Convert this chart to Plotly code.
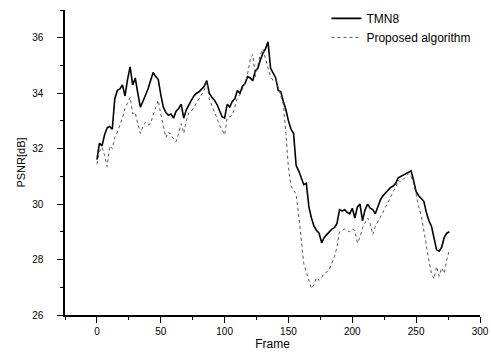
import plotly.graph_objects as go

frames = list(range(0, 277, 2))

tmn8 = [
    31.6, 32.2, 32.1, 32.5, 32.75, 32.8, 32.7, 33.8, 34.1, 34.15,
    34.3, 33.9, 34.5, 34.95, 34.3, 34.55, 34.0, 33.5, 33.7, 33.9,
    34.15, 34.45, 34.75, 34.6, 34.5, 33.95, 33.5, 33.3, 33.2, 33.25,
    33.1, 33.35, 33.45, 33.6, 33.1, 33.4, 33.6, 33.75, 33.9, 34.0,
    34.05, 34.15, 34.25, 34.45, 34.0, 33.85, 33.75, 33.6, 33.35, 33.15,
    33.1, 33.6, 33.5, 33.7, 33.8, 34.1, 34.0, 34.25, 34.35, 34.6,
    34.55, 34.45, 34.8, 34.9, 35.2, 35.45, 35.6, 35.85, 34.9, 34.7,
    34.55, 34.1, 34.05, 33.7, 33.4, 33.0, 32.7, 32.55, 31.4, 31.2,
    30.95, 30.7, 30.75, 29.9, 29.5, 29.2, 29.05, 28.95, 28.6, 28.8,
    28.9, 29.0, 29.1, 29.15, 29.3, 29.8, 29.75, 29.8, 29.7, 29.65,
    29.85, 29.5, 29.9, 30.0, 29.4, 29.8, 30.0, 29.85, 29.8, 29.65,
    29.9, 30.15, 30.3, 30.4, 30.5, 30.6, 30.65, 30.75, 30.95, 31.0,
    31.05, 31.1, 31.15, 31.2, 30.85, 30.45, 30.3, 30.2, 30.1, 29.7,
    29.4, 29.2, 28.8, 28.35, 28.3, 28.45, 28.8, 28.95, 29.0,
]

proposed = [
    31.45, 31.9, 32.05, 31.75, 31.35, 32.1, 32.0, 32.4, 32.6, 32.85,
    33.1, 33.45, 33.65, 33.85, 33.25, 33.3, 32.9, 32.55, 32.8, 32.95,
    32.85, 32.9, 33.2, 33.5, 33.75, 33.25, 32.85, 32.4, 32.6, 32.5,
    32.35, 32.25, 32.55, 32.9, 32.55, 33.0, 33.3, 33.35, 33.5, 33.65,
    33.8, 33.95, 34.1, 34.4, 33.8, 33.55, 33.35, 33.1, 32.85, 32.65,
    32.5, 33.1, 33.15, 33.2, 33.5, 33.85, 33.95, 34.15, 34.35, 34.7,
    35.2, 35.4, 34.6, 35.0, 35.4, 35.6, 35.2, 34.9, 34.6, 34.45,
    34.5, 34.2, 33.95, 33.6, 32.55, 31.3, 30.65, 30.5, 30.35, 29.6,
    28.6, 27.85, 27.55, 27.2, 26.95, 27.1, 27.35, 27.25, 27.35, 27.5,
    27.55, 27.65, 27.85, 28.1, 28.45, 29.0, 29.05, 29.1, 29.05, 29.0,
    29.1, 29.05, 28.6, 28.8, 29.15, 29.35, 29.5, 29.3, 28.9, 29.2,
    29.35, 29.5, 29.7, 29.9, 30.05, 30.25, 30.45, 30.6, 30.85, 30.8,
    30.9, 31.0, 31.1, 31.0, 30.75, 30.35, 29.9, 29.6, 29.0, 28.5,
    27.95, 27.5, 27.3, 27.75, 27.4, 27.7, 27.5, 28.0, 28.35,
]

x_ticks = [0, 50, 100, 150, 200, 250, 300]
y_ticks = [26, 28, 30, 32, 34, 36]

fig = go.Figure()
fig.add_trace(go.Scatter(
    x=frames, y=tmn8, mode="lines", name="TMN8",
    line=dict(color="black", width=1.6),
))
fig.add_trace(go.Scatter(
    x=frames, y=proposed, mode="lines", name="Proposed algorithm",
    line=dict(color="#555555", width=1, dash="dot"),
))

axis_font = dict(family="Liberation Sans, Arial, sans-serif", size=10, color="black")

fig.update_layout(
    width=491, height=362,
    margin=dict(l=65, r=11, t=10, b=47, autoexpand=False),
    paper_bgcolor="white", plot_bgcolor="white",
    font=dict(family="Liberation Sans, Arial, sans-serif", color="black"),
    showlegend=True,
    legend=dict(
        x=0.63, y=1.02, xanchor="left", yanchor="top",
        bgcolor="rgba(0,0,0,0)", font=dict(size=12, color="black"),
        tracegroupgap=0,
    ),
    xaxis=dict(
        range=[-25, 300], tickvals=x_ticks, ticks="outside", ticklen=6,
        tickwidth=1.2, tickcolor="black", showline=True, linecolor="black",
        linewidth=1.5, showgrid=False, zeroline=False, tickfont=axis_font,
        automargin=False,
        minor=dict(dtick=25, tick0=0, ticks="outside", ticklen=3, tickcolor="black"),
        title=dict(text="Frame", font=dict(size=12, color="black"), standoff=3),
    ),
    yaxis=dict(
        range=[26, 37], tickvals=y_ticks, ticks="outside", ticklen=6,
        tickwidth=1.2, tickcolor="black", showline=True, linecolor="black",
        linewidth=1.5, showgrid=False, zeroline=False, tickfont=axis_font,
        ticklabelstandoff=12, automargin=False,
        minor=dict(dtick=1, tick0=26, ticks="outside", ticklen=3, tickcolor="black"),
        title=dict(text="PSNR[dB]", font=dict(size=11, color="black"), standoff=4),
    ),
)

fig.write_html(
    "out.html",
    config={"displayModeBar": False},
    post_script="document.body.style.margin='0';document.body.style.padding='0';",
)
